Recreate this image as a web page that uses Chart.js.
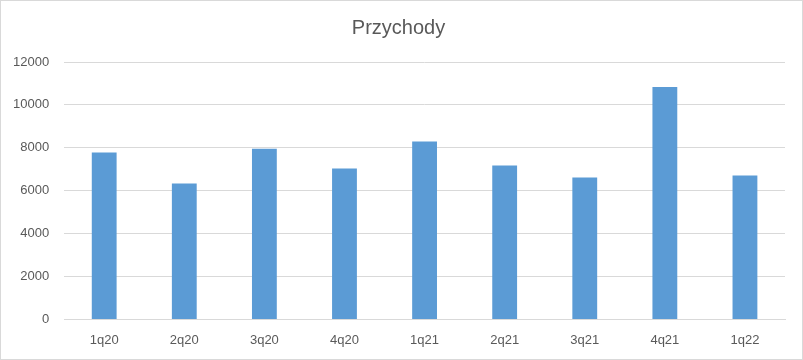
<!DOCTYPE html>
<html lang="pl">
<head>
  <meta charset="UTF-8">
  <title>Przychody</title>
  <script src="https://cdn.jsdelivr.net/npm/chart.js"></script>
  <style>
    body {
      margin: 0;
      background-color: #ffffff;
    }
    .chart-box {
      position: relative;
      width: 803px;
      height: 360px;
      box-sizing: border-box;
      border: 1px solid #d9d9d9;
    }
  </style>
</head>
<body>
  <div class="chart-box">
    <canvas id="revenueChart"></canvas>
  </div>

  <script>
    // Quarterly revenue
    const quarters = ['1q20', '2q20', '3q20', '4q20', '1q21', '2q21', '3q21', '4q21', '1q22'];
    const revenue = [7780, 6340, 7960, 7040, 8290, 7180, 6620, 10830, 6710];
    const yTicks = [0, 2000, 4000, 6000, 8000, 10000, 12000];

    const ctx = document.getElementById('revenueChart').getContext('2d');
    new Chart(ctx, {
      type: 'bar',
      data: {
        labels: quarters,
        datasets: [{
          label: 'Przychody',
          data: revenue,
          backgroundColor: '#5b9bd5',
          barPercentage: 1,
          categoryPercentage: 0.31
        }]
      },
      options: {
        responsive: true,
        maintainAspectRatio: false,
        animation: false,
        layout: {
          padding: { left: -3, right: 3, top: 6, bottom: -2 }
        },
        plugins: {
          legend: { display: false },
          tooltip: { enabled: false },
          title: {
            display: true,
            text: 'Przychody',
            color: '#595959',
            font: { family: 'Liberation Sans', size: 20, weight: 'normal' },
            padding: { top: 9, bottom: 22 }
          }
        },
        scales: {
          x: {
            grid: { display: false, drawTicks: false },
            border: { display: true, color: '#d9d9d9' },
            ticks: {
              color: '#595959',
              font: { family: 'Liberation Sans', size: 13 },
              padding: 13
            }
          },
          y: {
            min: 0,
            max: 12000,
            afterBuildTicks: axis => {
              axis.ticks = yTicks.map(v => ({ value: v }));
            },
            grid: { color: '#d9d9d9', drawTicks: false },
            border: { display: false },
            ticks: {
              color: '#595959',
              font: { family: 'Liberation Sans', size: 13 },
              padding: 15,
              callback: value => String(value)
            }
          },
          // empty right margin so the plot ends where the reference does
          yRight: {
            position: 'right',
            min: 0,
            max: 12000,
            grid: { display: false, drawTicks: false },
            border: { display: false },
            ticks: { display: false },
            afterFit: axis => {
              axis.width = 14;
            }
          }
        }
      }
    });
  </script>
</body>
</html>
